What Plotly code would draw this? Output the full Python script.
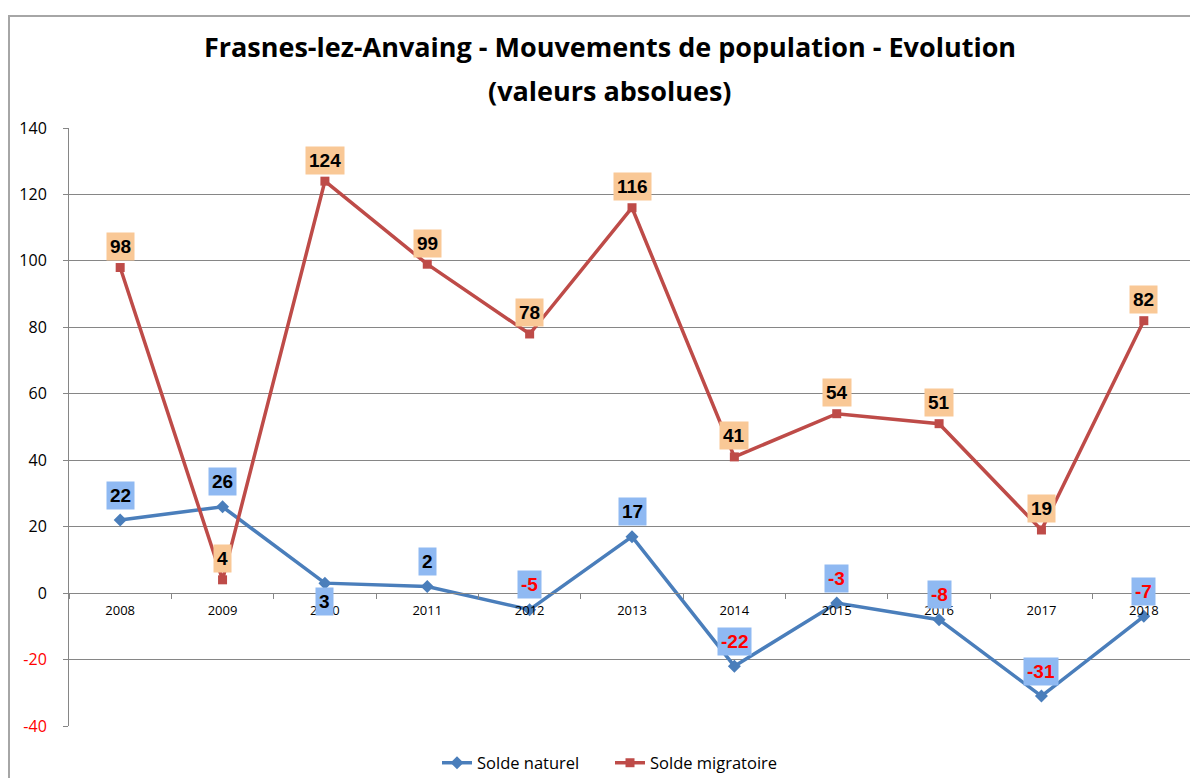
import plotly.graph_objects as go

years = ["2008", "2009", "2010", "2011", "2012", "2013", "2014", "2015", "2016", "2017", "2018"]
solde_naturel = [22, 26, 3, 2, -5, 17, -22, -3, -8, -31, -7]
solde_migratoire = [98, 4, 124, 99, 78, 116, 41, 54, 51, 19, 82]
y_ticks = [-40, -20, 0, 20, 40, 60, 80, 100, 120, 140]

BLUE = "#4A7EBB"
RED = "#BE4B48"
LABEL_FONT = "Liberation Sans"

# the page body adds an 8px margin, so the figure is 1190x770
W, H = 1190, 770
L, R, T, B = 61, 3, 120, 52

fig = go.Figure()
fig.add_trace(go.Scatter(
    x=years, y=solde_naturel, name="Solde naturel", mode="lines+markers",
    line=dict(color=BLUE, width=3.5),
    marker=dict(symbol="diamond", size=10, color=BLUE)))
fig.add_trace(go.Scatter(
    x=years, y=solde_migratoire, name="Solde migratoire", mode="lines+markers",
    line=dict(color=RED, width=3.5),
    marker=dict(symbol="square", size=9, color=RED)))

# data labels (x given as category index: numeric-looking names are read as indices)
for i, v in enumerate(solde_naturel):
    below = (years[i] == "2010")
    fig.add_annotation(
        x=i, y=v, text="<b>%d</b>" % v, showarrow=False,
        yshift=-18 if below else 25,
        font=dict(family=LABEL_FONT, size=19, color="black" if v >= 0 else "#FF0000"),
        bgcolor="#8FB9F2", borderpad=3)
for i, v in enumerate(solde_migratoire):
    fig.add_annotation(
        x=i, y=v, text="<b>%d</b>" % v, showarrow=False, yshift=21,
        font=dict(family=LABEL_FONT, size=19, color="black"),
        bgcolor="#F9C896", borderpad=3)

# second title line
plot_h = H - T - B
plot_w = W - L - R
fig.add_annotation(
    xref="paper", yref="paper", x=(602 - L) / plot_w, y=(H - B - 82) / plot_h,
    text="<b>(valeurs absolues)</b>", showarrow=False, yanchor="middle",
    font=dict(family="Open Sans", size=27, color="black"))

# chart border
fig.add_shape(type="rect", xref="paper", yref="paper",
              x0=(1 - L) / plot_w, x1=1.02, y0=-0.3, y1=(H - B - 8) / plot_h,
              line=dict(color="#A6A6A6", width=2), layer="below")

tick_text = [("<span style='color:#FF0000'>%d</span>" % t) if t < 0 else str(t) for t in y_ticks]

fig.update_layout(
    width=W, height=H,
    paper_bgcolor="white", plot_bgcolor="white",
    margin=dict(l=L, r=R, t=T, b=B, autoexpand=False),
    font=dict(family="Open Sans", color="black"),
    title=dict(
        text="<b>Frasnes-lez-Anvaing - Mouvements de population - Evolution</b>",
        x=602 / W, xanchor="center", y=1 - 40 / H, yanchor="middle",
        font=dict(family="Open Sans", size=27, color="black")),
    xaxis=dict(
        type="category", range=[-0.5, 10.5], anchor="free", position=40 / 180,
        showgrid=False, showline=True, linecolor="#868686", linewidth=1,
        ticks="outside", ticklen=5, tickcolor="#868686", tickson="boundaries",
        ticklabelstandoff=5,
        tickfont=dict(size=13, family="Open Sans"), zeroline=False, automargin=False),
    yaxis=dict(
        range=[-40, 140], domain=[0, 1], tickvals=y_ticks, ticktext=tick_text,
        showgrid=True, gridcolor="#868686", gridwidth=1,
        showline=True, linecolor="#868686", linewidth=1,
        ticks="outside", ticklen=5, tickcolor="#868686", ticklabelstandoff=13,
        tickfont=dict(size=16, family="Open Sans"), zeroline=False, automargin=False),
    legend=dict(orientation="h", x=(602 - L) / plot_w, xanchor="center",
                y=-37 / plot_h, yanchor="middle", entrywidth=128,
                font=dict(size=16.5, family="Open Sans")),
)

fig.write_html("out.html")
